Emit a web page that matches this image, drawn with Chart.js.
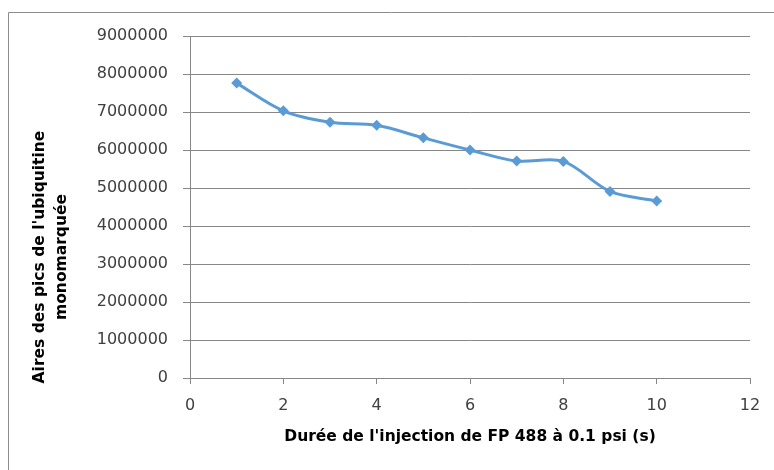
<!DOCTYPE html>
<html>
<head>
<meta charset="utf-8">
<script src="https://cdn.jsdelivr.net/npm/chart.js@4/dist/chart.umd.min.js"></script>
<style>
  html, body { margin: 0; padding: 0; background: #ffffff; }
  #wrap { position: relative; width: 774px; height: 470px; }
</style>
</head>
<body>
<div id="wrap"><canvas id="aireChart" width="774" height="470"></canvas></div>
<script>
// Injection time (s) and peak areas of mono-labelled ubiquitin
const durees = [1, 2, 3, 4, 5, 6, 7, 8, 9, 10];
const aires = [7760000, 7030000, 6730000, 6650000, 6320000, 6000000, 5710000, 5700000, 4910000, 4660000];

const xTicks = [0, 2, 4, 6, 8, 10, 12];
const yTicks = [0, 1000000, 2000000, 3000000, 4000000, 5000000, 6000000, 7000000, 8000000, 9000000];

const xTitle = "Durée de l'injection de FP 488 à 0.1 psi (s)";
const yTitle = ["Aires des pics de l'ubiquitine", "monomarquée"];

const FONT = "'DejaVu Sans', sans-serif";
const GRID = '#878787';

// Outer frame and the two-line rotated y title
const framePlugin = {
    id: 'frame',
    beforeDraw(chart) {
        const c = chart.ctx;
        c.save();
        c.strokeStyle = '#8c8c8c';
        c.lineWidth = 1;
        c.beginPath();
        c.moveTo(8.5, 470);
        c.lineTo(8.5, 12.5);
        c.lineTo(774, 12.5);
        c.stroke();
        c.restore();
    },
    afterDraw(chart) {
        const c = chart.ctx;
        c.save();
        c.fillStyle = '#000000';
        c.font = 'bold 15.5px ' + FONT;
        c.textAlign = 'center';
        c.textBaseline = 'middle';
        c.translate(0, 257);
        c.rotate(-Math.PI / 2);
        c.fillText(yTitle[0], 0, 40);
        c.fillText(yTitle[1], 0, 62);
        c.restore();
    }
};

new Chart(document.getElementById('aireChart'), {
    type: 'scatter',
    data: {
        datasets: [{
            data: durees.map((d, i) => ({ x: d, y: aires[i] })),
            showLine: true,
            borderColor: '#5b9bd5',
            backgroundColor: '#5b9bd5',
            borderWidth: 3,
            tension: 0.33,
            pointStyle: 'rectRot',
            pointRadius: 5.5,
            pointBorderWidth: 0,
            pointHoverRadius: 5.5
        }]
    },
    options: {
        responsive: false,
        animation: false,
        events: [],
        layout: { padding: { left: 0, right: 24, top: 36, bottom: 0 } },
        plugins: {
            legend: { display: false },
            tooltip: { enabled: false }
        },
        scales: {
            x: {
                type: 'linear',
                min: 0,
                max: 12,
                afterBuildTicks: (scale) => { scale.ticks = xTicks.map(v => ({ value: v })); },
                afterFit: (scale) => { scale.height = 92; },
                grid: {
                    drawOnChartArea: false,
                    drawTicks: true,
                    tickLength: 6,
                    color: GRID
                },
                border: { color: GRID, width: 1 },
                ticks: {
                    color: '#404040',
                    padding: 12,
                    maxRotation: 0,
                    font: { family: FONT, size: 16 }
                },
                title: {
                    display: true,
                    text: xTitle,
                    color: '#000000',
                    font: { family: FONT, size: 15.5, weight: 'bold' },
                    padding: { top: 4, bottom: 24 }
                }
            },
            y: {
                type: 'linear',
                min: 0,
                max: 9000000,
                afterBuildTicks: (scale) => { scale.ticks = yTicks.map(v => ({ value: v })); },
                afterFit: (scale) => { scale.width = 190; },
                grid: {
                    drawOnChartArea: true,
                    drawTicks: true,
                    tickLength: 7,
                    color: GRID
                },
                border: { color: GRID, width: 1 },
                ticks: {
                    color: '#404040',
                    padding: 15,
                    font: { family: FONT, size: 16 },
                    callback: (v) => String(v)
                }
            }
        }
    },
    plugins: [framePlugin]
});
</script>
</body>
</html>
